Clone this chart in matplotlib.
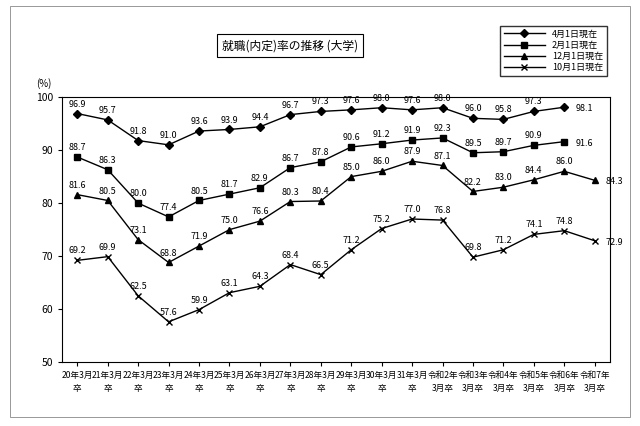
import matplotlib
matplotlib.use("Agg")
import matplotlib.pyplot as plt
from matplotlib.patches import Rectangle

plt.rcParams['font.family'] = ['Noto Sans CJK JP', 'DejaVu Sans']

categories = ["20年3月\n卒", "21年3月\n卒", "22年3月\n卒", "23年3月\n卒", "24年3月\n卒", "25年3月\n卒",
              "26年3月\n卒", "27年3月\n卒", "28年3月\n卒", "29年3月\n卒", "30年3月\n卒", "31年3月\n卒",
              "令和2年\n3月卒", "令和3年\n3月卒", "令和4年\n3月卒", "令和5年\n3月卒", "令和6年\n3月卒", "令和7年\n3月卒"]
apr = [96.9, 95.7, 91.8, 91.0, 93.6, 93.9, 94.4, 96.7, 97.3, 97.6, 98.0, 97.6, 98.0, 96.0, 95.8, 97.3, 98.1]
feb = [88.7, 86.3, 80.0, 77.4, 80.5, 81.7, 82.9, 86.7, 87.8, 90.6, 91.2, 91.9, 92.3, 89.5, 89.7, 90.9, 91.6]
dec = [81.6, 80.5, 73.1, 68.8, 71.9, 75.0, 76.6, 80.3, 80.4, 85.0, 86.0, 87.9, 87.1, 82.2, 83.0, 84.4, 86.0, 84.3]
octo = [69.2, 69.9, 62.5, 57.6, 59.9, 63.1, 64.3, 68.4, 66.5, 71.2, 75.2, 77.0, 76.8, 69.8, 71.2, 74.1, 74.8, 72.9]
names = ["4月1日現在", "2月1日現在", "12月1日現在", "10月1日現在"]

fig = plt.figure(figsize=(6.4, 4.26), dpi=100)
fig.patches.append(Rectangle((0.015, 0.02), 0.97, 0.965, transform=fig.transFigure,
                             fill=False, lw=0.6, ec='#888888'))
ax = fig.add_axes([0.097, 0.15, 0.856, 0.622])
series = [(apr, 'D', 4), (feb, 's', 5), (dec, '^', 5), (octo, 'x', 5)]
for (vals, m, ms), nm in zip(series, names):
    xs = list(range(len(vals)))
    ax.plot(xs, vals, color='black', marker=m, ms=ms, lw=1, label=nm, mew=1)
    last = len(vals) - 1
    for x, v in zip(xs, vals):
        if x == last:
            ax.annotate(f"{v:.1f}", (x, v), xytext=(8, -3), textcoords='offset points', fontsize=6.5, ha='left')
        else:
            ax.annotate(f"{v:.1f}", (x, v), xytext=(0, 5), textcoords='offset points', fontsize=6.5, ha='center')
ax.set_ylim(50, 100)
ax.set_yticks(range(50, 101, 10))
ax.set_xlim(-0.5, 17.5)
ax.set_xticks(range(18))
ax.set_xticklabels(categories, fontsize=6.2, linespacing=1.6)
ax.tick_params(axis='y', labelsize=7.5, length=3)
ax.tick_params(axis='x', length=3)
ax.text(-0.02, 1.04, "(%)", transform=ax.transAxes, fontsize=7, ha='right')
fig.text(0.453, 0.893, "就職(内定)率の推移 (大学)", ha='center', va='center', fontsize=8.5,
         bbox=dict(boxstyle='square,pad=0.4', fc='white', ec='black', lw=0.8))
fig.legend(loc='upper right', bbox_to_anchor=(0.955, 0.95), fontsize=6.5, frameon=True,
           fancybox=False, edgecolor='black', handlelength=4.5, labelspacing=0.25, borderpad=0.4)
fig.savefig("out.png", dpi=100)
